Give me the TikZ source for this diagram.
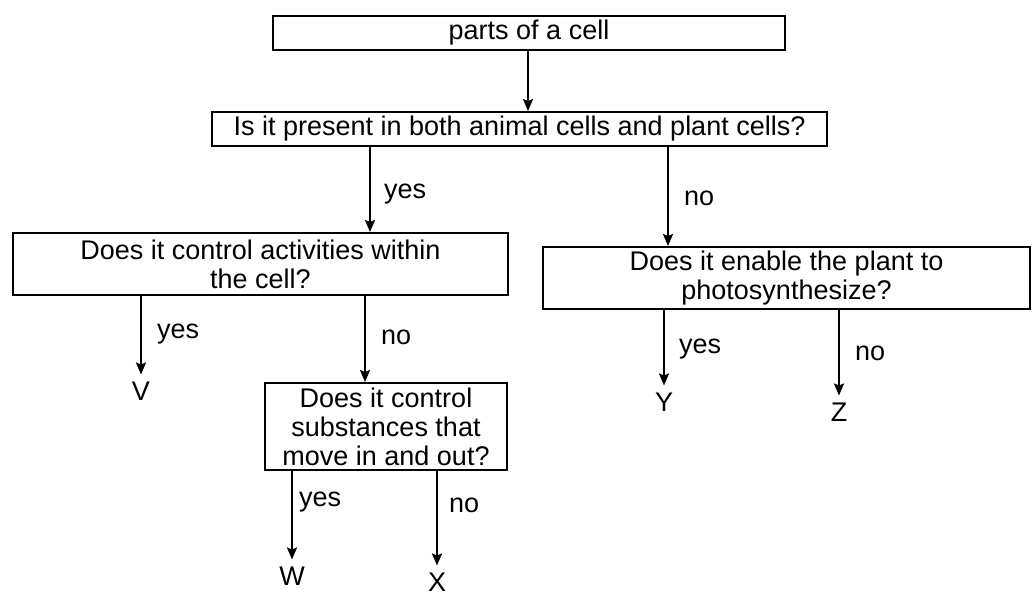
\documentclass[tikz,border=0pt]{standalone}
\usepackage{fontspec}
\setmainfont{Liberation Sans}
\usetikzlibrary{arrows.meta}
\begin{document}
\begin{tikzpicture}[x=1pt,y=-1pt,
  txt/.style={font=\fontsize{27}{29}\selectfont},
  qbox/.style={txt,draw,line width=2pt,align=center,inner sep=0pt},
  leaf/.style={txt,inner sep=0pt},
  arr/.style={line width=2pt,-{Stealth[length=12pt,width=10pt,inset=2pt]}},
  lbl/.style={txt,anchor=west,inner sep=0pt}]
\useasboundingbox (0,0) rectangle (1033,595);
% boxes
\node[qbox,minimum width=512pt,minimum height=34pt] (b1) at (529,33) {parts of a cell};
\node[qbox,minimum width=615pt,minimum height=34pt] (b2) at (519.5,129) {Is it present in both animal cells and plant cells?};
\node[qbox,minimum width=495pt,minimum height=62pt] (b3) at (260.5,264) {Does it control activities within\\the cell?};
\node[qbox,minimum width=242pt,minimum height=87pt] (b4) at (386,426.5) {Does it control\\substances that\\move in and out?};
\node[qbox,minimum width=487pt,minimum height=62pt] (b5) at (786.5,278) {Does it enable the plant to\\photosynthesize?};
% leaves
\node[leaf] (V) at (141,391) {V};
\node[leaf] (W) at (292,576) {W};
\node[leaf] (X) at (437,582) {X};
\node[leaf] (Y) at (664,402) {Y};
\node[leaf] (Z) at (839,412) {Z};
% x positions of connectors
\coordinate (c1) at (528,0);
\coordinate (c2) at (370,0);
\coordinate (c3) at (668,0);
\coordinate (c4) at (365,0);
% connectors
\draw[arr] (b1.south -| c1) -- (b2.north -| c1);
\draw[arr] (b2.south -| c2) -- node[lbl,pos=0.55,xshift=13pt]{yes} (b3.north -| c2);
\draw[arr] (b2.south -| c3) -- node[lbl,pos=0.52,xshift=15pt]{no} (b5.north -| c3);
\draw[arr,shorten >=7pt] (b3.south -| V) -- node[lbl,pos=0.44,xshift=15pt]{yes} (V.north);
\draw[arr] (b3.south -| c4) -- node[lbl,pos=0.48,xshift=15pt]{no} (b4.north -| c4);
\draw[arr,shorten >=7pt] (b4.south -| W) -- node[lbl,pos=0.33,xshift=6pt]{yes} (W.north);
\draw[arr,shorten >=7pt] (b4.south -| X) -- node[lbl,pos=0.34,xshift=11pt]{no} (X.north);
\draw[arr,shorten >=7pt] (b5.south -| Y) -- node[lbl,pos=0.47,xshift=14pt]{yes} (Y.north);
\draw[arr,shorten >=7pt] (b5.south -| Z) -- node[lbl,pos=0.47,xshift=15pt]{no} (Z.north);
\end{tikzpicture}
\end{document}
